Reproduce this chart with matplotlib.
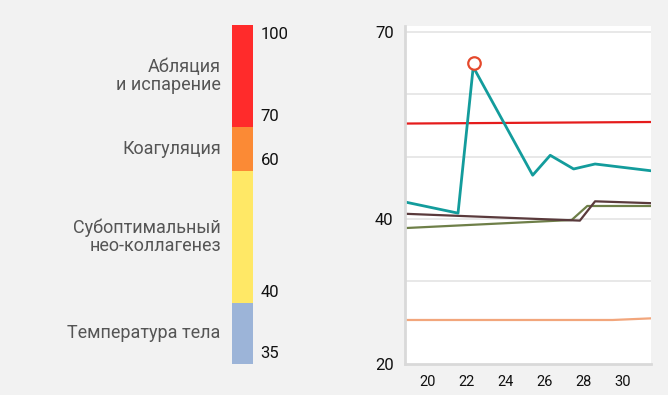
import matplotlib
matplotlib.use("Agg")
import matplotlib.pyplot as plt
import matplotlib.transforms as mtransforms
import numpy as np

plt.rcParams['font.family'] = ['Roboto', 'DejaVu Sans']

# temperature bands (left scale)
band_bounds = [35, 40, 60, 70, 100]
band_names = ["Температура тела", "Субоптимальный\nнео-коллагенез",
              "Коагуляция", "Абляция\nи испарение"]
band_colors = ["#9cb4d8", "#ffe866", "#fb8a35", "#ff2b2b"]

# right chart series
days = [20, 22, 24, 26, 28, 30]
teal_x = [18.84, 21.57, 22.35, 25.4, 26.3, 27.5, 28.6, 31.5]
teal_y = [42.7, 40.9, 64.4, 47.0, 50.2, 48.0, 48.8, 47.7]
peak_x = [22.4]
peak_y = [65.0]
red_x = [18.84, 31.5]
red_y = [55.3, 55.55]
brown_x = [18.84, 27.82, 28.6, 31.5]
brown_y = [40.8, 39.7, 42.8, 42.5]
olive_x = [18.84, 27.4, 28.2, 31.5]
olive_y = [38.5, 39.8, 42.05, 42.05]
orange_x = [18.84, 29.5, 31.5]
orange_y = [25.3, 25.3, 25.5]

fig = plt.figure(figsize=(6.68, 3.95), dpi=100)
fig.patch.set_facecolor("#f2f2f2")

# ---- left: temperature bar (schematic, uneven spacing)
bar_pos = [0, 61, 193, 237, 338]
def fwd_l(t):
    return np.interp(t, band_bounds, bar_pos)
def inv_l(p):
    return np.interp(p, bar_pos, band_bounds)

axl = fig.add_axes([0.347, 0.0785, 0.031, 0.857])
axl.set_yscale("function", functions=(fwd_l, inv_l))
for lo, hi, c in zip(band_bounds[:-1], band_bounds[1:], band_colors):
    axl.bar(0, hi - lo, bottom=lo, width=1, color=c, linewidth=0)
axl.set_xlim(-0.5, 0.5)
axl.set_ylim(band_bounds[0], band_bounds[-1])
axl.axis("off")

trans = mtransforms.blended_transform_factory(axl.transAxes, axl.transData)
for lo, hi, name in zip(band_bounds[:-1], band_bounds[1:], band_names):
    mid = inv_l((fwd_l(lo) + fwd_l(hi)) / 2)
    axl.annotate(name, xy=(0, mid), xycoords=trans, xytext=(-11, 0),
                 textcoords="offset pixels", ha="right", va="center",
                 fontsize=13, color="#555555", linespacing=1.05)
for i, b in enumerate(band_bounds):
    dy = -9 if i == len(band_bounds) - 1 else 10
    axl.annotate(str(b), xy=(1, b), xycoords=trans, xytext=(8, dy),
                 textcoords="offset pixels", ha="left", va="center",
                 fontsize=12, color="#111111")

# ---- right: line chart
axis_pos = [0, 83, 338]
axis_vals = [20, 30, 71]
def fwd_r(v):
    return np.interp(v, axis_vals, axis_pos)
def inv_r(p):
    return np.interp(p, axis_pos, axis_vals)

ax = fig.add_axes([0.606, 0.0785, 0.368, 0.856])
ax.set_facecolor("white")
ax.set_yscale("function", functions=(fwd_r, inv_r))
ax.set_xlim(18.84, 31.45)
ax.set_ylim(20, 71)

ax.plot(orange_x, orange_y, color="#f2a67c", lw=1.6)
ax.plot(red_x, red_y, color="#e51c1c", lw=1.6)
ax.plot(olive_x, olive_y, color="#6e7f48", lw=1.6)
ax.plot(brown_x, brown_y, color="#5a3a3c", lw=1.6)
ax.plot(teal_x, teal_y, color="#139c9c", lw=2.0)
ax.plot(peak_x, peak_y, "o", ms=9, mfc="white", mec="#e5492c", mew=1.6)

ax.set_yticks([30, 40, 50, 60, 70])
ax.set_yticklabels(["", "40", "", "", "70"])
ax.set_yticks([20], minor=True)
ax.set_yticklabels(["20"], minor=True)
ax.yaxis.grid(True, color="#e4e4e4", lw=1.2)
ax.set_axisbelow(True)
ax.set_xticks(days)
ax.tick_params(axis="both", which="both", length=0, colors="#111111")
ax.tick_params(axis="y", which="both", labelsize=12, pad=8)
ax.tick_params(axis="x", labelsize=10.5, pad=8)
for s in ["top", "right"]:
    ax.spines[s].set_visible(False)
for s in ["left", "bottom"]:
    ax.spines[s].set_color("#d9d9d9")
    ax.spines[s].set_linewidth(2)

fig.savefig("out.png", dpi=100, facecolor=fig.get_facecolor())
